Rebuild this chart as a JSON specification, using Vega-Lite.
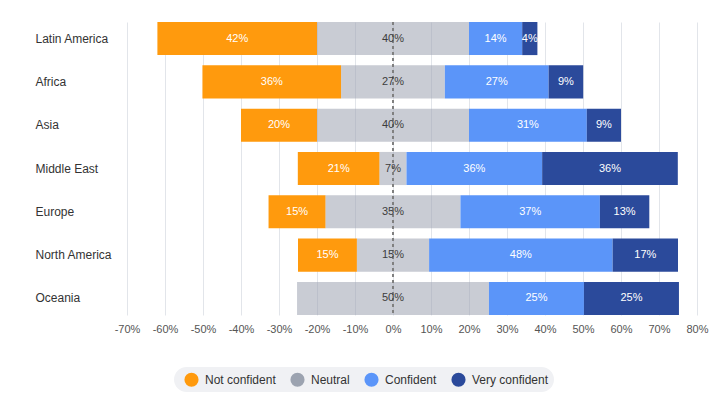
{
  "$schema": "https://vega.github.io/schema/vega-lite/v6.json",
  "autosize": {"type": "none"},
  "padding": {"left": 127, "top": 22, "right": 23, "bottom": 82},
  "width": 570,
  "height": 293,
  "background": "white",
  "config": {
    "view": {"stroke": null},
    "font": "Liberation Sans",
    "axisX": {
      "labelOverlap": false,
      "labelFlush": false,
      "domain": false,
      "ticks": false,
      "grid": true,
      "gridColor": "#e2e5ea",
      "gridWidth": 1,
      "labelPadding": 8,
      "labelFontSize": 11,
      "labelColor": "#555555"
    }
  },
  "data": {
    "values": [
      {"region": "Latin America", "category": "Not confident", "order": 1, "value": 0.42, "label": 0.42},
      {"region": "Latin America", "category": "Neutral", "order": 2, "value": 0.40, "label": 0.40},
      {"region": "Latin America", "category": "Confident", "order": 3, "value": 0.14, "label": 0.14},
      {"region": "Latin America", "category": "Very confident", "order": 4, "value": 0.04, "label": 0.04},
      {"region": "Africa", "category": "Not confident", "order": 1, "value": 0.365, "label": 0.36},
      {"region": "Africa", "category": "Neutral", "order": 2, "value": 0.273, "label": 0.27},
      {"region": "Africa", "category": "Confident", "order": 3, "value": 0.273, "label": 0.27},
      {"region": "Africa", "category": "Very confident", "order": 4, "value": 0.091, "label": 0.09},
      {"region": "Asia", "category": "Not confident", "order": 1, "value": 0.20, "label": 0.20},
      {"region": "Asia", "category": "Neutral", "order": 2, "value": 0.40, "label": 0.40},
      {"region": "Asia", "category": "Confident", "order": 3, "value": 0.31, "label": 0.31},
      {"region": "Asia", "category": "Very confident", "order": 4, "value": 0.09, "label": 0.09},
      {"region": "Middle East", "category": "Not confident", "order": 1, "value": 0.215, "label": 0.21},
      {"region": "Middle East", "category": "Neutral", "order": 2, "value": 0.071, "label": 0.07},
      {"region": "Middle East", "category": "Confident", "order": 3, "value": 0.357, "label": 0.36},
      {"region": "Middle East", "category": "Very confident", "order": 4, "value": 0.357, "label": 0.36},
      {"region": "Europe", "category": "Not confident", "order": 1, "value": 0.15, "label": 0.15},
      {"region": "Europe", "category": "Neutral", "order": 2, "value": 0.355, "label": 0.35},
      {"region": "Europe", "category": "Confident", "order": 3, "value": 0.367, "label": 0.37},
      {"region": "Europe", "category": "Very confident", "order": 4, "value": 0.13, "label": 0.13},
      {"region": "North America", "category": "Not confident", "order": 1, "value": 0.155, "label": 0.15},
      {"region": "North America", "category": "Neutral", "order": 2, "value": 0.19, "label": 0.15},
      {"region": "North America", "category": "Confident", "order": 3, "value": 0.483, "label": 0.48},
      {"region": "North America", "category": "Very confident", "order": 4, "value": 0.172, "label": 0.17},
      {"region": "Oceania", "category": "Neutral", "order": 2, "value": 0.505, "label": 0.50},
      {"region": "Oceania", "category": "Confident", "order": 3, "value": 0.25, "label": 0.25},
      {"region": "Oceania", "category": "Very confident", "order": 4, "value": 0.25, "label": 0.25}
    ]
  },
  "transform": [
    {"window": [{"op": "sum", "field": "value", "as": "v2"}], "groupby": ["region"], "sort": [{"field": "order", "order": "ascending"}], "frame": [null, 0]},
    {"calculate": "datum.v2 - datum.value", "as": "v1"},
    {"calculate": "datum.category === 'Not confident' ? datum.value : (datum.category === 'Neutral' ? datum.value / 2 : 0)", "as": "offPart"},
    {"joinaggregate": [{"op": "sum", "field": "offPart", "as": "offset"}], "groupby": ["region"]},
    {"calculate": "datum.v1 - datum.offset", "as": "start"},
    {"calculate": "datum.v2 - datum.offset", "as": "end"},
    {"calculate": "(datum.start + datum.end) / 2", "as": "mid"}
  ],
  "encoding": {
    "y": {
      "field": "region",
      "type": "nominal",
      "sort": ["Latin America", "Africa", "Asia", "Middle East", "Europe", "North America", "Oceania"],
      "scale": {"paddingInner": 0.236, "paddingOuter": 0},
      "axis": {
        "title": null,
        "domain": false,
        "ticks": false,
        "labelAlign": "left",
        "labelPadding": 92,
        "labelFontSize": 12,
        "labelColor": "#333333"
      }
    }
  },
  "layer": [
    {
      "mark": {"type": "bar"},
      "encoding": {
        "x": {
          "field": "start",
          "type": "quantitative",
          "scale": {"domain": [-0.7, 0.8], "nice": false, "zero": false},
          "axis": {
            "title": null,
            "values": [-0.7, -0.6, -0.5, -0.4, -0.3, -0.2, -0.1, 0, 0.1, 0.2, 0.3, 0.4, 0.5, 0.6, 0.7, 0.8],
            "labelExpr": "round(datum.value * 100) + '%'",
            "labelOverlap": false
          }
        },
        "x2": {"field": "end"},
        "color": {
          "field": "category",
          "type": "nominal",
          "scale": {
            "domain": ["Not confident", "Neutral", "Confident", "Very confident"],
            "range": ["#FF9A0D", "#9ca3b0", "#5b95f9", "#2b4a9b"]
          },
          "legend": {
            "title": null,
            "orient": "none",
            "legendX": 47,
            "legendY": 345,
            "direction": "horizontal",
            "fillColor": "#f0f1f4",
            "cornerRadius": 13,
            "padding": 5,
            "symbolOffset": 5,
            "symbolType": "circle",
            "symbolSize": 200,
            "symbolStrokeWidth": 0,
            "symbolOpacity": 1,
            "labelFontSize": 12,
            "labelColor": "#333333",
            "labelOffset": 6,
            "columnPadding": 9
          }
        },
        "opacity": {
          "condition": {"test": "datum.category === 'Neutral'", "value": 0.55},
          "value": 1
        }
      }
    },
    {
      "mark": {"type": "rule", "strokeDash": [3, 3], "strokeWidth": 1.5, "color": "#808080"},
      "encoding": {
        "x": {
          "datum": 0,
          "type": "quantitative",
          "axis": {
            "title": null,
            "values": [-0.7, -0.6, -0.5, -0.4, -0.3, -0.2, -0.1, 0, 0.1, 0.2, 0.3, 0.4, 0.5, 0.6, 0.7, 0.8],
            "labelExpr": "round(datum.value * 100) + '%'",
            "labelOverlap": false
          }
        },
        "y": null
      }
    },
    {
      "mark": {"type": "text", "fontSize": 11, "align": "center", "baseline": "middle"},
      "encoding": {
        "x": {
          "field": "mid",
          "type": "quantitative",
          "axis": {
            "title": null,
            "values": [-0.7, -0.6, -0.5, -0.4, -0.3, -0.2, -0.1, 0, 0.1, 0.2, 0.3, 0.4, 0.5, 0.6, 0.7, 0.8],
            "labelExpr": "round(datum.value * 100) + '%'",
            "labelOverlap": false
          }
        },
        "text": {"field": "label", "type": "quantitative", "format": ".0%"},
        "color": {
          "condition": {"test": "datum.category === 'Neutral'", "value": "#3d3d3d"},
          "value": "white"
        }
      }
    }
  ]
}
